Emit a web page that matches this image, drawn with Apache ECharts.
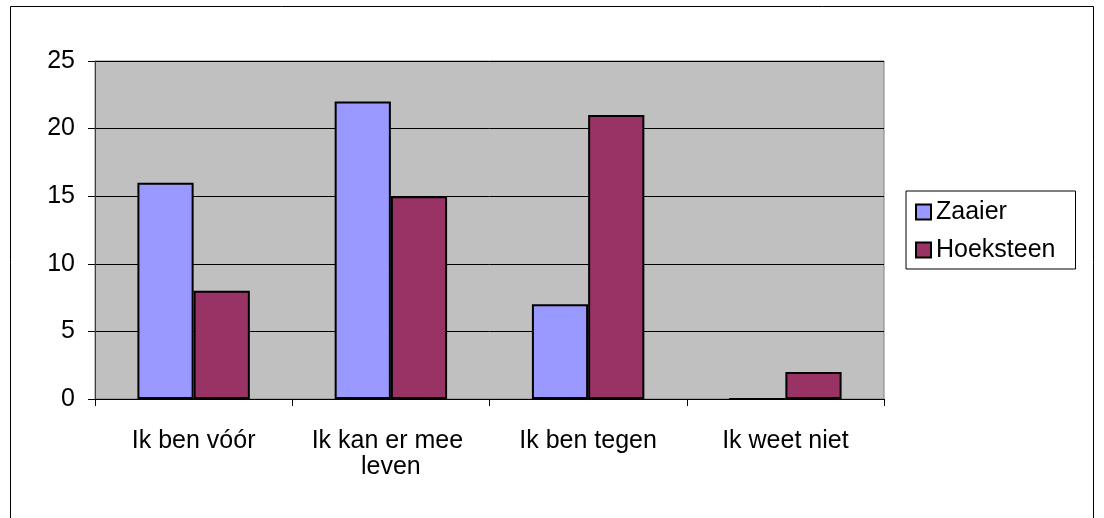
<!DOCTYPE html>
<html>
<head>
<meta charset="utf-8">
<script src="https://cdn.jsdelivr.net/npm/echarts@6/dist/echarts.min.js"></script>
<style>
    html, body { margin: 0; padding: 0; background: #fff; }
    #chart { width: 1104px; height: 518px; }
</style>
</head>
<body>
<div id="chart"></div>
<script>
// categorieën en waarden
var categories = ["Ik ben vóór", "Ik kan er mee leven", "Ik ben tegen", "Ik weet niet"];
var zaaier = [16, 22, 7, 0];
var hoeksteen = [8, 15, 21, 2];
var yTicks = [0, 5, 10, 15, 20, 25];

var font = "Liberation Sans, Arial, sans-serif";
var myChart = echarts.init(document.getElementById("chart"));

myChart.setOption({
    animation: false,
    textStyle: { fontFamily: font },
    // buitenrand
    graphic: [{
        type: "rect",
        z: -10,
        shape: { x: 10.5, y: 6.5, width: 1083, height: 600 },
        style: { fill: "none", stroke: "#000", lineWidth: 1 }
    }],
    grid: {
        left: 95,
        right: 220,
        top: 61,
        bottom: 119,
        show: true,
        backgroundColor: "#C0C0C0",
        borderColor: "#808080",
        borderWidth: 1
    },
    legend: {
        orient: "vertical",
        left: 906,
        top: 191,
        data: ["Zaaier", "Hoeksteen"],
        icon: "rect",
        itemWidth: 15,
        itemHeight: 15,
        itemGap: 10,
        itemStyle: { borderColor: "#000", borderWidth: 2 },
        textStyle: { fontSize: 25, color: "#000", fontFamily: font, lineHeight: 28 },
        borderColor: "#000",
        borderWidth: 1,
        padding: [7, 20, 5, 9],
        selectedMode: false
    },
    xAxis: {
        type: "category",
        data: categories,
        axisLine: { lineStyle: { color: "#000", width: 1 } },
        axisTick: { show: true, length: 7, lineStyle: { color: "#000" } },
        axisLabel: {
            fontSize: 25,
            color: "#000",
            margin: 29,
            width: 190,
            overflow: "break",
            lineHeight: 26,
            interval: 0
        }
    },
    yAxis: {
        type: "value",
        min: 0,
        max: 25,
        interval: 5,
        axisLine: { show: true, lineStyle: { color: "#404040", width: 1 } },
        axisTick: { show: true, length: 7, lineStyle: { color: "#000" } },
        axisLabel: {
            fontSize: 25,
            color: "#000",
            margin: 20,
            formatter: function (v) { return yTicks.indexOf(v) >= 0 ? String(v) : ""; }
        },
        splitLine: { show: true, lineStyle: { color: "#000", width: 1 } }
    },
    series: [
        {
            name: "Zaaier",
            type: "bar",
            data: zaaier,
            barGap: "0%",
            barCategoryGap: "43%",
            itemStyle: { color: "#9999FF", borderColor: "#000", borderWidth: 2 }
        },
        {
            name: "Hoeksteen",
            type: "bar",
            data: hoeksteen,
            barGap: "0%",
            barCategoryGap: "43%",
            itemStyle: { color: "#993366", borderColor: "#000", borderWidth: 2 }
        }
    ]
});
</script>
</body>
</html>
